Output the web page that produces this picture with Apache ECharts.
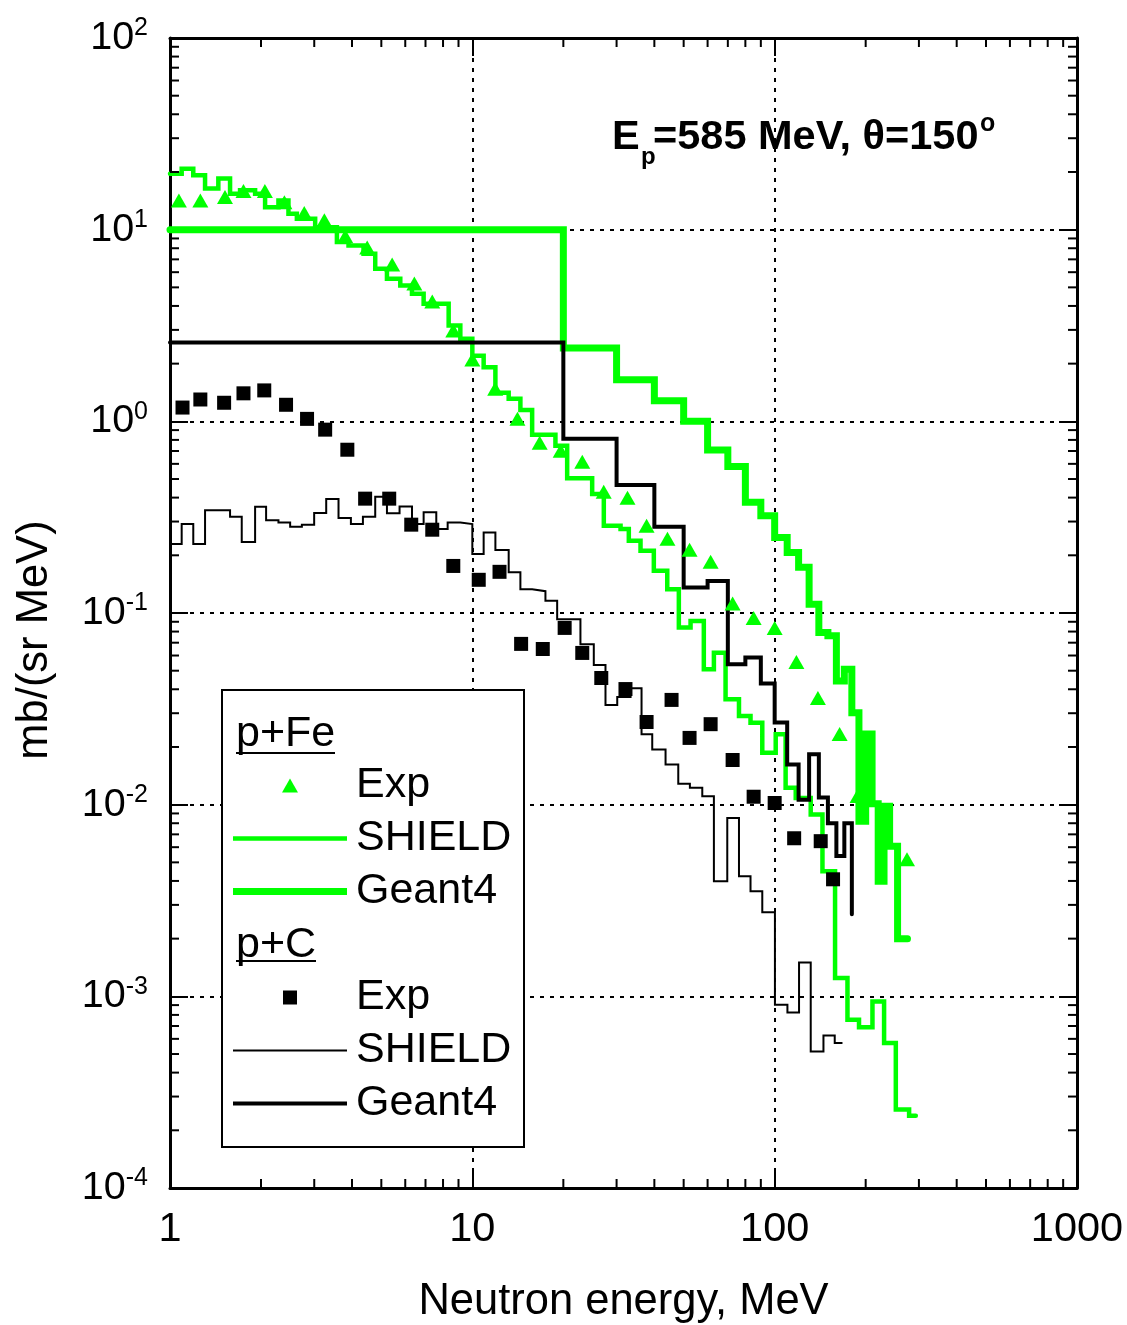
<!DOCTYPE html>
<html>
<head>
<meta charset="utf-8">
<script src="https://cdn.jsdelivr.net/npm/echarts/dist/echarts.min.js"></script>
<style>
  html, body { margin: 0; padding: 0; background: #fff; }
  #main { width: 1127px; height: 1325px; }
</style>
</head>
<body>
<div id="main"></div>
<script>
const FONT = '"Liberation Sans", Arial, sans-serif'
const GREEN = '#00ff00'
const X_MIN = 1, X_MAX = 1000, Y_MIN = 1e-4, Y_MAX = 100

// p+Fe experiment (triangles)
const feExpE = [1.07, 1.26, 1.52, 1.75, 2.06, 2.39, 2.78, 3.24, 3.80, 4.49, 5.43, 6.43, 7.37, 8.65, 10.0, 11.9, 14.1, 16.7, 19.6, 23.1, 27.2, 32.6, 37.7, 44.2, 52.3, 61.4, 72.6, 85.2, 100, 118, 139, 164, 188, 274]
const feExpV = [14.2, 14.2, 14.8, 15.9, 15.9, 13.9, 12.2, 11.2, 9.23, 8.08, 6.59, 5.24, 4.22, 2.98, 2.10, 1.48, 1.03, 0.774, 0.703, 0.616, 0.429, 0.399, 0.285, 0.244, 0.214, 0.185, 0.112, 0.0943, 0.0836, 0.0555, 0.036, 0.0234, 0.0111, 0.00519]

// p+C experiment (squares)
const cExpE = [1.10, 1.26, 1.51, 1.75, 2.05, 2.42, 2.84, 3.26, 3.86, 4.42, 5.31, 6.28, 7.37, 8.65, 10.5, 12.3, 14.5, 17.1, 20.2, 23.1, 26.7, 32.1, 37.7, 45.6, 52.3, 61.4, 72.6, 85.2, 100, 116, 142, 156]
const cExpV = [1.18, 1.30, 1.25, 1.40, 1.45, 1.22, 1.03, 0.905, 0.711, 0.395, 0.395, 0.289, 0.272, 0.176, 0.149, 0.164, 0.069, 0.0649, 0.0836, 0.0619, 0.0458, 0.0401, 0.027, 0.0352, 0.0223, 0.0263, 0.0171, 0.011, 0.0102, 0.00668, 0.00645, 0.00408]

// p+Fe SHIELD histogram: bin edges and bin values
const feShieldEdges = [1, 1.093, 1.194, 1.306, 1.445, 1.58, 1.705, 1.912, 2.063, 2.284, 2.465, 2.628, 3.021, 3.565, 3.895, 4.366, 4.773, 5.219, 5.777, 6.315, 6.901, 8.35, 9.126, 10.0, 10.9, 11.92, 13.19, 14.42, 15.77, 18.83, 20.59, 24.91, 27.22, 30.92, 32.93, 36.0, 39.84, 44.13, 48.2, 52.7, 58.3, 62.95, 68.8, 76.2, 83.2, 91.0, 100.8, 108.7, 117.4, 131.6, 143.9, 158.4, 174.1, 190.1, 210.6, 230.1, 251.6, 278.4, 293]
const feShieldV = [19.6, 20.8, 19.2, 16.4, 18.5, 15.4, 16.05, 15.4, 13.1, 14.2, 12.1, 11.4, 10.3, 8.61, 8.28, 7.49, 6.26, 5.55, 5.12, 4.63, 4.11, 3.16, 2.70, 2.20, 1.915, 1.41, 1.31, 1.147, 0.852, 0.746, 0.505, 0.4175, 0.285, 0.274, 0.238, 0.211, 0.166, 0.133, 0.0839, 0.0909, 0.0509, 0.0621, 0.0355, 0.029, 0.02675, 0.01865, 0.02327, 0.01224, 0.01085, 0.00889, 0.00449, 0.001245, 0.000755, 0.00069, 0.00094, 0.00057, 0.000257, 0.000238]

// p+Fe Geant4 histogram
const feG4Edges = [1, 20, 30, 40, 50, 60, 70, 80, 90, 100, 110, 120, 130, 140, 150, 160, 170, 180, 190, 200, 210, 220, 230, 240, 255, 275]
const feG4V = [10.0, 2.41, 1.65, 1.28, 1.0, 0.709, 0.582, 0.378, 0.322, 0.248, 0.207, 0.173, 0.111, 0.079, 0.076, 0.0442, 0.0509, 0.0302, 0.0082, 0.0234, 0.0101, 0.00398, 0.0098, 0.00607, 0.0020]

// p+C SHIELD histogram
const cShieldEdges = [1, 1.093, 1.194, 1.306, 1.58, 1.727, 1.912, 2.079, 2.284, 2.497, 2.73, 2.998, 3.286, 3.609, 3.966, 4.346, 4.773, 5.219, 5.745, 6.315, 6.901, 7.599, 8.286, 9.126, 10.0, 10.9, 11.92, 13.19, 14.42, 15.77, 17.45, 19.08, 22.78, 25.22, 27.57, 30.15, 33.37, 36.28, 39.36, 43.56, 47.99, 52.43, 57.62, 62.95, 69.7, 76.2, 83.2, 91.0, 100.2, 110.2, 120.4, 131.6, 145.0, 158.0, 167.6]
const cShieldV = [0.229, 0.291, 0.229, 0.344, 0.318, 0.235, 0.358, 0.305, 0.297, 0.282, 0.289, 0.332, 0.393, 0.313, 0.291, 0.318, 0.404, 0.331, 0.360, 0.291, 0.335, 0.274, 0.297, 0.291, 0.203, 0.263, 0.213, 0.163, 0.133, 0.130, 0.116, 0.0928, 0.0687, 0.0536, 0.0331, 0.0364, 0.0405, 0.0233, 0.0194, 0.0162, 0.01285, 0.01224, 0.01108, 0.00398, 0.00853, 0.00423, 0.00353, 0.00275, 0.000904, 0.000824, 0.0015, 0.000515, 0.000625, 0.00057]

// p+C Geant4 histogram (+ last drop)
const cG4Edges = [1, 20, 30, 40, 50, 60, 70, 80, 90, 100, 110, 120, 130, 140, 150, 160, 170, 180]
const cG4V = [2.58, 0.812, 0.465, 0.282, 0.136, 0.147, 0.054, 0.0586, 0.0429, 0.0268, 0.0162, 0.0106, 0.0183, 0.0109, 0.0080, 0.0054, 0.0080]
const cG4Tail = 0.00268

// axis ticks
const xDecades = [1, 10, 100]
const yDecades = [1e-4, 1e-3, 1e-2, 1e-1, 1, 10]
const minorMult = [2, 3, 4, 5, 6, 7, 8, 9]

// histogram -> points for a step line
const stepData = (edges, vals, tail) => {
  let pts = vals.map((v, i) => [edges[i], v])
  pts.push([edges[edges.length - 1], vals[vals.length - 1]])
  if (tail !== undefined) pts.push([edges[edges.length - 1], tail])
  return pts
}
const zip = (xs, ys) => xs.map((x, i) => [x, ys[i]])

let minorData = []
xDecades.forEach(d => minorMult.forEach(k => minorData.push([k * d, Y_MIN, 0])))
yDecades.forEach(d => minorMult.forEach(k => minorData.push([X_MIN, k * d, 1])))

// minor ticks on all four sides, placed through the axes
const renderMinorTick = (params, api) => {
  const len = 9
  const st = { stroke: '#000', lineWidth: 2 }
  if (api.value(2) === 0) {
    let a = api.coord([api.value(0), Y_MIN])
    let b = api.coord([api.value(0), Y_MAX])
    return { type: 'group', children: [
      { type: 'line', shape: { x1: a[0], y1: a[1], x2: a[0], y2: a[1] - len }, style: st },
      { type: 'line', shape: { x1: b[0], y1: b[1], x2: b[0], y2: b[1] + len }, style: st }
    ] }
  }
  let a = api.coord([X_MIN, api.value(1)])
  let b = api.coord([X_MAX, api.value(1)])
  return { type: 'group', children: [
    { type: 'line', shape: { x1: a[0], y1: a[1], x2: a[0] + len, y2: a[1] }, style: st },
    { type: 'line', shape: { x1: b[0], y1: b[1], x2: b[0] - len, y2: b[1] }, style: st }
  ] }
}

// legend icons (drawn centred in itemWidth x itemHeight)
const ICON_TRI = 'path://M0,14L8,0L16,14Z'
const ICON_SQ = 'path://M0,0H15V15H0Z'
const iconBar = h => 'path://M0,0H114V' + h + 'H0Z'
const legItem = (name, icon, color) => ({ name: name, icon: icon, itemStyle: { color: color, borderWidth: 0, opacity: 1 } })

const chart = echarts.init(document.getElementById('main'), null, { renderer: 'canvas' })

const axisBase = {
  axisLine: { show: true, lineStyle: { color: '#000', width: 3 } },
  axisTick: { show: true, inside: true, length: 18, lineStyle: { color: '#000', width: 2 } }
}
const gridLine = { show: true, lineStyle: { color: '#000', width: 2, type: [4, 6] } }

const legendText = { fontFamily: FONT, fontSize: 43, color: '#000', padding: [0, 0, 0, 4] }
const legendBase = {
  orient: 'vertical', left: 233, padding: 0,
  itemWidth: 114, itemHeight: 14, itemGap: 10,
  symbolKeepAspect: true,
  selectedMode: false,
  formatter: n => n.replace(/^p\+\w+ /, ''),
  textStyle: legendText
}

const titleBold = { fontFamily: FONT, fontSize: 41.5, fontWeight: 'bold', lineHeight: 42, color: '#000' }

let option = {
  animation: false,
  backgroundColor: '#fff',
  textStyle: { fontFamily: FONT, color: '#000' },
  title: [
    { text: 'E', left: 612, top: 117, padding: 0, textStyle: titleBold },
    { text: 'p', left: 641, top: 145, padding: 0, textStyle: { fontFamily: FONT, fontSize: 24, fontWeight: 'bold', lineHeight: 24, color: '#000' } },
    { text: '=585 MeV, θ=150', left: 653, top: 117, padding: 0, textStyle: titleBold },
    { text: 'o', left: 980, top: 112, padding: 0, textStyle: { fontFamily: FONT, fontSize: 25, lineHeight: 25, color: '#000' } }
  ],
  grid: { left: 170, right: 50, top: 38, bottom: 137, containLabel: false, outerBoundsMode: 'none' },
  xAxis: [
    Object.assign({}, axisBase, {
      type: 'log', logBase: 10, min: X_MIN, max: X_MAX, splitNumber: 3,
      position: 'bottom',
      name: 'Neutron energy, MeV',
      nameLocation: 'middle',
      nameGap: 92,
      nameTextStyle: { fontFamily: FONT, fontSize: 43.5, color: '#000' },
      axisLabel: { show: true, margin: 21, fontFamily: FONT, fontSize: 41.5, color: '#000', showMinLabel: true, showMaxLabel: true, formatter: v => String(Math.round(v)) },
      splitLine: gridLine
    }),
    Object.assign({}, axisBase, {
      type: 'log', logBase: 10, min: X_MIN, max: X_MAX, splitNumber: 3,
      position: 'top',
      axisLabel: { show: false },
      splitLine: { show: false }
    })
  ],
  yAxis: [
    Object.assign({}, axisBase, {
      type: 'log', logBase: 10, min: Y_MIN, max: Y_MAX, splitNumber: 6,
      position: 'left',
      name: 'mb/(sr MeV)',
      nameLocation: 'middle',
      nameRotate: 90,
      nameGap: 113,
      nameTextStyle: { fontFamily: FONT, fontSize: 43.5, color: '#000', padding: [0, 54, 0, 0] },
      axisLabel: {
        show: true, margin: 22, showMinLabel: true, showMaxLabel: true,
        formatter: v => '{b|10}{s|' + Math.round(Math.log10(v)) + '}',
        rich: {
          b: { fontFamily: FONT, fontSize: 39.5, lineHeight: 44, color: '#000' },
          s: { fontFamily: FONT, fontSize: 25, lineHeight: 12, verticalAlign: 'top', color: '#000' }
        }
      },
      splitLine: gridLine
    }),
    Object.assign({}, axisBase, {
      type: 'log', logBase: 10, min: Y_MIN, max: Y_MAX, splitNumber: 6,
      position: 'right',
      axisLabel: { show: false },
      splitLine: { show: false }
    })
  ],
  legend: [
    Object.assign({}, legendBase, {
      top: 764,
      data: [
        legItem('p+Fe Exp', ICON_TRI, GREEN),
        legItem('p+Fe SHIELD', iconBar(4.5), GREEN),
        legItem('p+Fe Geant4', iconBar(7), GREEN)
      ]
    }),
    Object.assign({}, legendBase, {
      top: 976,
      data: [
        legItem('p+C Exp', ICON_SQ, '#000'),
        legItem('p+C SHIELD', iconBar(2), '#000'),
        legItem('p+C Geant4', iconBar(4), '#000')
      ]
    })
  ],
  graphic: [
    { type: 'rect', z: 3, shape: { x: 222, y: 690, width: 302, height: 457 }, style: { fill: '#fff', stroke: '#000', lineWidth: 2 } },
    { type: 'text', z: 5, x: 236, y: 734, style: { text: 'p+Fe', font: '43px ' + FONT, fill: '#000', verticalAlign: 'middle', textVerticalAlign: 'middle' } },
    { type: 'line', z: 5, shape: { x1: 236, y1: 753, x2: 335, y2: 753 }, style: { stroke: '#000', lineWidth: 2 } },
    { type: 'text', z: 5, x: 236, y: 945, style: { text: 'p+C', font: '43px ' + FONT, fill: '#000', verticalAlign: 'middle', textVerticalAlign: 'middle' } },
    { type: 'line', z: 5, shape: { x1: 236, y1: 961, x2: 316, y2: 961 }, style: { stroke: '#000', lineWidth: 2 } }
  ],
  series: [
    {
      name: 'p+Fe Geant4', type: 'line', step: 'end', symbol: 'none',
      data: stepData(feG4Edges, feG4V),
      lineStyle: { color: GREEN, width: 7, join: 'miter', cap: 'round' },
      itemStyle: { color: GREEN }, z: 2
    },
    {
      name: 'p+Fe SHIELD', type: 'line', step: 'end', symbol: 'none',
      data: stepData(feShieldEdges, feShieldV),
      lineStyle: { color: GREEN, width: 4.5, join: 'miter', cap: 'round' },
      itemStyle: { color: GREEN }, z: 2
    },
    {
      name: 'p+C Geant4', type: 'line', step: 'end', symbol: 'none',
      data: stepData(cG4Edges, cG4V, cG4Tail),
      lineStyle: { color: '#000', width: 4, join: 'miter', cap: 'round' },
      itemStyle: { color: '#000' }, z: 2
    },
    {
      name: 'p+C SHIELD', type: 'line', step: 'end', symbol: 'none',
      data: stepData(cShieldEdges, cShieldV),
      lineStyle: { color: '#000', width: 2, join: 'miter' },
      itemStyle: { color: '#000' }, z: 2
    },
    {
      name: 'p+Fe Exp', type: 'scatter', symbol: 'triangle', symbolSize: [16, 14],
      data: zip(feExpE, feExpV),
      itemStyle: { color: GREEN, opacity: 1 }, z: 3
    },
    {
      name: 'p+C Exp', type: 'scatter', symbol: 'rect', symbolSize: 14,
      data: zip(cExpE, cExpV),
      itemStyle: { color: '#000', opacity: 1 }, z: 3
    },
    {
      name: 'ticks', type: 'custom', silent: true, clip: false, z: 4,
      data: minorData,
      renderItem: renderMinorTick
    }
  ]
}

chart.setOption(option)
</script>
</body>
</html>
